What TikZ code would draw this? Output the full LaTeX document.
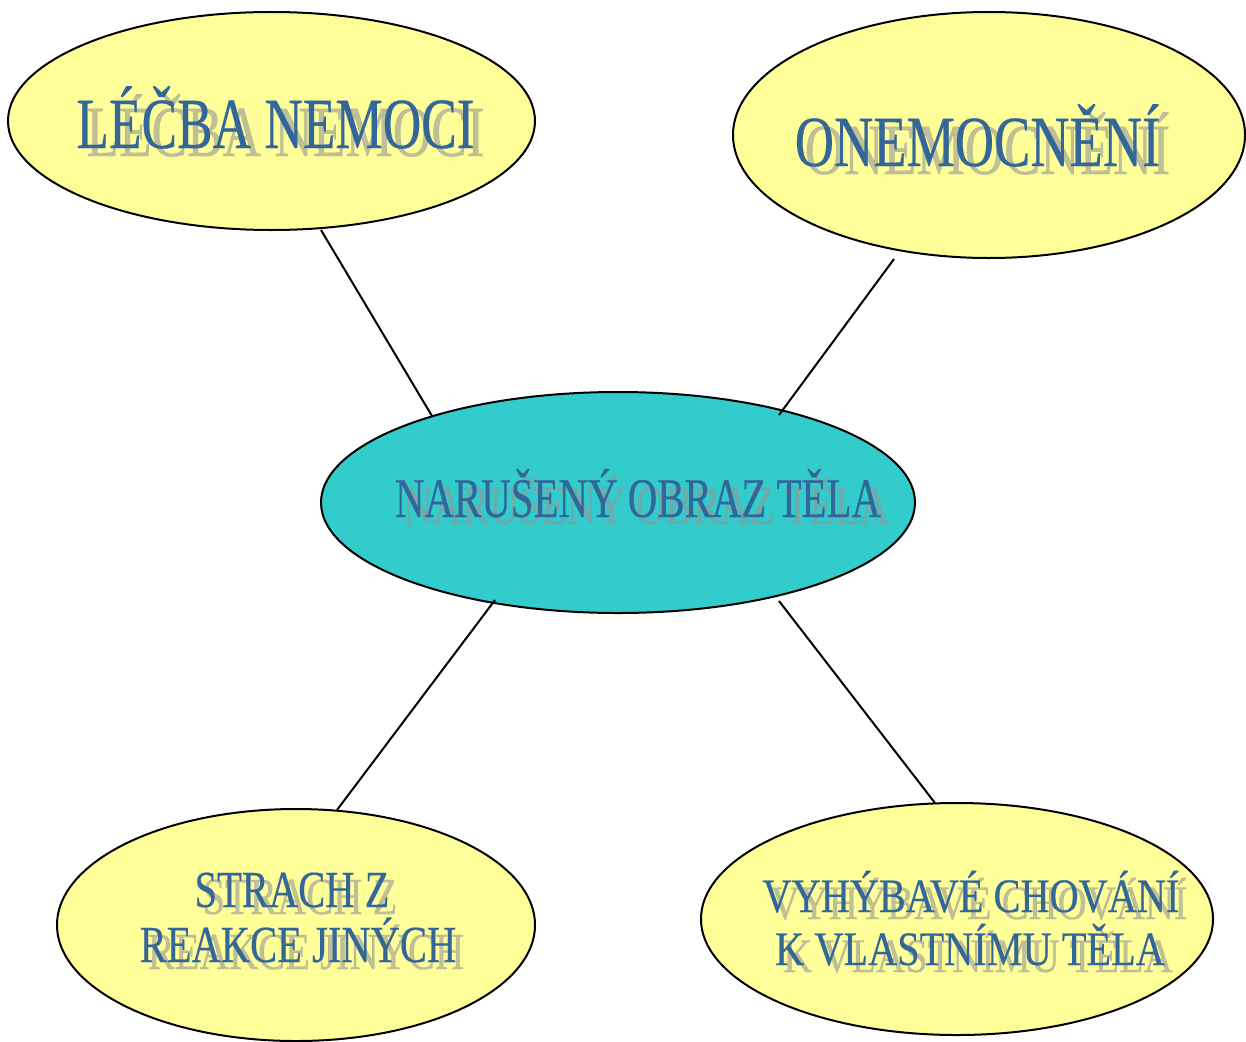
\documentclass[tikz,border=0pt]{standalone}
\usepackage{fontspec}
\usepackage{graphicx}
\usetikzlibrary{shapes.geometric}
\newfontfamily\capsfont[FakeBold=0.4]{Liberation Serif}
\definecolor{bubble}{RGB}{255,255,153}
\definecolor{hub}{RGB}{51,204,204}
\definecolor{inkblue}{RGB}{51,102,153}
\definecolor{shade}{RGB}{150,150,150}
\tikzset{
  bubblebox/.style={draw=black, line width=2pt, fill=bubble, ellipse, inner sep=0pt},
  hubbox/.style={bubblebox, fill=hub},
  link/.style={draw=black, line width=2pt},
  labeltext/.style={anchor=base, inner sep=0pt, text=inkblue},
  labelshade/.style={anchor=base, inner sep=0pt, text=shade, text opacity=0.6},
}
% #1 node name, #2 base point, #3 font size, #4 horizontal squeeze, #5/#6 shadow offset, #7 text
\newcommand\shadedlabel[7]{%
  \node[labelshade, font=\capsfont\fontsize{#3}{#3}\selectfont, xshift=#5pt, yshift=-#6pt] at #2 {\scalebox{#4}[1]{#7}};
  \node[labeltext, font=\capsfont\fontsize{#3}{#3}\selectfont] (#1) at #2 {\scalebox{#4}[1]{#7}};
}
\begin{document}
\begin{tikzpicture}[x=1pt, y=-1pt]
\useasboundingbox (0,0) rectangle (1246,1041);

% bubbles
\node[bubblebox, minimum width=527pt, minimum height=218pt] (treat) at (271.5,121) {};
\node[bubblebox, minimum width=512pt, minimum height=246pt] (ill) at (989,135) {};
\node[hubbox, minimum width=594pt, minimum height=221pt] (body) at (618,502.5) {};
\node[bubblebox, minimum width=478pt, minimum height=232pt] (fear) at (296,925) {};
\node[bubblebox, minimum width=512pt, minimum height=232pt] (avoid) at (957,919) {};

% connector end points
\coordinate (t1) at (321,230);
\coordinate (t2) at (432,416);
\coordinate (i1) at (894,259);
\coordinate (i2) at (779,415);
\coordinate (f1) at (495,600);
\coordinate (f2) at (337,810);
\coordinate (a1) at (779,601);
\coordinate (a2) at (935,803);

\draw[link] (t1) -- (t2);
\draw[link] (i1) -- (i2);
\draw[link] (f1) -- (f2);
\draw[link] (a1) -- (a2);

% labels
\shadedlabel{treatL}{(275.5,148)}{72}{0.74}{10}{8}{LÉČBA NEMOCI}
\shadedlabel{illL}{(977.5,166)}{72}{0.755}{10}{8}{ONEMOCNĚNÍ}
\shadedlabel{bodyL}{(638,517)}{56}{0.73}{8}{7}{NARUŠENÝ OBRAZ TĚLA}
\shadedlabel{fearA}{(292,907)}{52}{0.78}{8}{7}{STRACH Z}
\shadedlabel{fearB}{(298,962)}{52}{0.78}{8}{7}{REAKCE JINÝCH}
\shadedlabel{avoidA}{(971,912)}{48}{0.84}{8}{7}{VYHÝBAVÉ CHOVÁNÍ}
\shadedlabel{avoidB}{(970,965)}{48}{0.84}{8}{7}{K VLASTNÍMU TĚLA}
\end{tikzpicture}
\end{document}
